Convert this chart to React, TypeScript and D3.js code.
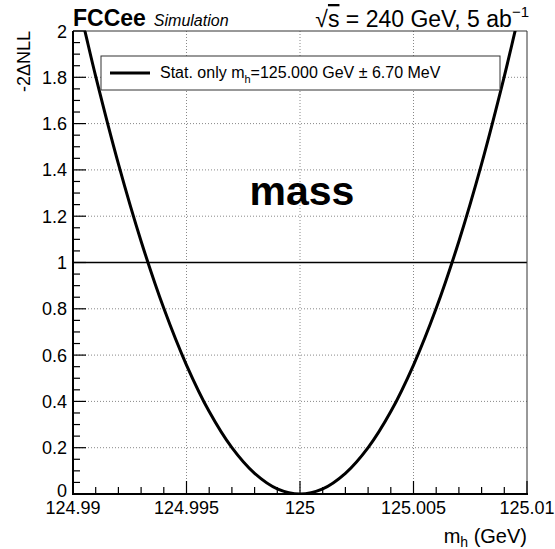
import React from "react";
import * as d3 from "d3";

// Likelihood scan points: m_h (GeV) and -2ΔNLL
const mhScan = [
  124.9903, 124.9905, 124.991, 124.992, 124.993, 124.994, 124.995, 124.996, 124.997, 124.998, 124.999,
  125.0, 125.001, 125.002, 125.003, 125.004, 125.005, 125.006, 125.007, 125.008, 125.009, 125.0095, 125.0097,
];
const nllScan = [
  2.09, 2.01, 1.804, 1.426, 1.092, 0.802, 0.557, 0.356, 0.2, 0.089, 0.022,
  0.0, 0.022, 0.089, 0.2, 0.356, 0.557, 0.802, 1.092, 1.426, 1.804, 2.01, 2.09,
];

const xMajorTicks = [124.99, 124.995, 125, 125.005, 125.01];
const xTickLabels = ["124.99", "124.995", "125", "125.005", "125.01"];
const yMajorTicks = [0, 0.2, 0.4, 0.6, 0.8, 1, 1.2, 1.4, 1.6, 1.8, 2];
const yTickLabels = ["0", "0.2", "0.4", "0.6", "0.8", "1", "1.2", "1.4", "1.6", "1.8", "2"];
const xDomain = [124.99, 125.01];
const yDomain = [0, 2];
const refLevel = 1;

const FONT = "'Liberation Sans', Arial, Helvetica, sans-serif";

export default function App() {
  const W = 555, H = 549;
  const L = 73, R = 527, T = 31, B = 494;
  const x = d3.scaleLinear().domain(xDomain).range([L, R]);
  const y = d3.scaleLinear().domain(yDomain).range([B, T]);

  const xMinor = x.ticks(20);
  const yMinor = y.ticks(50);
  const pts = mhScan.map((m, i) => [m, nllScan[i]] as [number, number]);
  const line = d3
    .line<[number, number]>()
    .x((d) => x(d[0]))
    .y((d) => y(d[1]))
    .curve(d3.curveCatmullRom.alpha(0.5));

  return (
    <svg
      width={W}
      height={H}
      style={{ position: "absolute", left: 0, top: 0, background: "#fff" }}
      fontFamily={FONT}
    >
      <defs>
        <clipPath id="plotclip">
          <rect x={L} y={T} width={R - L} height={B - T} />
        </clipPath>
      </defs>
      <rect x={0} y={0} width={W} height={H} fill="#fff" />
      {/* grid */}
      {xMajorTicks.slice(1, -1).map((t) => (
        <line key={"gx" + t} x1={x(t)} x2={x(t)} y1={T} y2={B} stroke="#888" strokeWidth={1} strokeDasharray="1,2" />
      ))}
      {yMajorTicks.slice(1, -1).filter((t) => t !== refLevel).map((t) => (
        <line key={"gy" + t} x1={L} x2={R} y1={y(t)} y2={y(t)} stroke="#888" strokeWidth={1} strokeDasharray="1,2" />
      ))}
      {/* reference line at 1 */}
      <line x1={L} x2={R} y1={y(refLevel)} y2={y(refLevel)} stroke="#000" strokeWidth={1.5} />
      {/* frame */}
      <line x1={L} x2={R} y1={T} y2={T} stroke="#333" strokeWidth={1} />
      <line x1={R} x2={R} y1={T} y2={B} stroke="#333" strokeWidth={1} />
      {/* curve */}
      <path d={line(pts) || ""} fill="none" stroke="#000" strokeWidth={3} clipPath="url(#plotclip)" />
      {/* axes */}
      <line x1={L} x2={L} y1={T} y2={B + 1} stroke="#000" strokeWidth={2} />
      <line x1={L - 1} x2={R + 1} y1={B} y2={B} stroke="#000" strokeWidth={2} />
      {xMinor.map((t) => {
        const major = xMajorTicks.some((m) => Math.abs(m - t) < 1e-9);
        return (
          <line key={"xt" + t} x1={x(t)} x2={x(t)} y1={B} y2={B - (major ? 13 : 7)} stroke="#000" strokeWidth={1.2} />
        );
      })}
      {yMinor.map((t) => {
        const major = yMajorTicks.some((m) => Math.abs(m - t) < 1e-9);
        return (
          <line key={"yt" + t} x1={L} x2={L + (major ? 13 : 7)} y1={y(t)} y2={y(t)} stroke="#000" strokeWidth={1.2} />
        );
      })}
      {/* tick labels */}
      {xMajorTicks.map((t, i) => (
        <text key={"xl" + t} x={x(t)} y={514} textAnchor="middle" fontSize={18} fill="#000">
          {xTickLabels[i]}
        </text>
      ))}
      {yMajorTicks.map((t, i) => (
        <text key={"yl" + t} x={67} y={y(t) + (t === 0 ? 3 : 6.5)} textAnchor="end" fontSize={18} fill="#000">
          {yTickLabels[i]}
        </text>
      ))}
      {/* axis titles */}
      <text x={R} y={543} textAnchor="end" fontSize={20} fill="#000">
        m<tspan fontSize={14} dy={4}>h</tspan>
        <tspan dy={-4}> (GeV)</tspan>
      </text>
      <text transform={`translate(30,${T}) rotate(-90)`} textAnchor="end" fontSize={18} fill="#000">
        -2ΔNLL
      </text>
      {/* header */}
      <text x={L} y={26} fontSize={23} fontWeight="bold" fill="#000">
        FCCee
        <tspan fontWeight="normal" fontStyle="italic" fontSize={16} dx={8}>Simulation</tspan>
      </text>
      <text x={R + 2} y={27} textAnchor="end" fontSize={23} fill="#000">
        √<tspan style={{ textDecoration: "overline" }}>s</tspan> = 240 GeV, 5 ab
        <tspan fontSize={15} dy={-10}>−1</tspan>
      </text>
      {/* legend */}
      <rect x={101} y={56} width={399} height={34} fill="#fff" stroke="#333" strokeWidth={1} />
      <line x1={110} x2={150} y1={73} y2={73} stroke="#000" strokeWidth={3} />
      <text x={160} y={78} fontSize={16} fill="#000">
        Stat. only m<tspan fontSize={11} dy={5}>h</tspan>
        <tspan dy={-5}>=125.000 GeV ± 6.70 MeV</tspan>
      </text>
      {/* annotation */}
      <text x={302} y={205} textAnchor="middle" fontSize={41} fontWeight="bold" fill="#000">
        mass
      </text>
    </svg>
  );
}
